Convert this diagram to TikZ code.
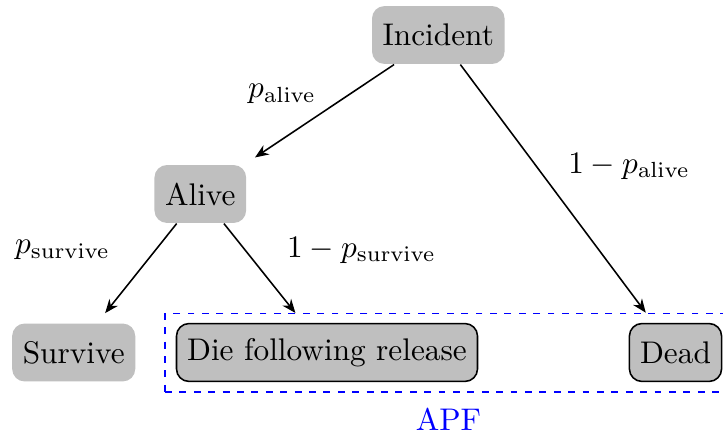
\documentclass[tikz,border=0pt]{standalone}
\usetikzlibrary{arrows.meta}
\tikzset{
  state/.style={rounded corners=4pt, fill=lightgray, minimum height=18.5pt,
                inner xsep=3.4pt, inner ysep=0pt},
  framed/.style={state, draw=black, line width=0.5pt},
  link/.style={-{Stealth[length=4.4pt,width=3.5pt]}, shorten >=4pt, line width=0.5pt},
  problabel/.style={inner sep=0pt},
  apfbox/.style={draw=blue, dash pattern=on 2.2pt off 2.4pt, line width=0.5pt,
                 minimum width=180.8pt, minimum height=25pt, inner sep=0pt},
}
\begin{document}
\begin{tikzpicture}[x=0.3195pt, y=-0.3195pt]
  \useasboundingbox (0,0) rectangle (723,437);

  % grouping frame around the two death outcomes
  \node[apfbox] (apf) at (448,352.6) {};
  \node[text=blue, inner sep=0pt] (apflabel) at (448.5,419.3) {APF};

  % event tree
  \node[state]  (incident) at (438.3,35)  {Incident};
  \node[state]  (alive)    at (200.3,194) {Alive};
  \node[state]  (survive)  at (73.7,352.5) {Survive};
  \node[framed] (die)      at (327,352.5) {Die following release};
  \node[framed] (dead)     at (675.5,352.5) {Dead};

  \draw[link] (incident) -- (alive);
  \draw[link] (incident) -- (dead);
  \draw[link] (alive) -- (survive);
  \draw[link] (alive) -- (die);

  % branch probabilities
  \node[problabel] (lalive)    at (282,94)    {$p_{\mathrm{alive}}$};
  \node[problabel] (ldead)     at (629,166)   {$1-p_{\mathrm{alive}}$};
  \node[problabel] (lsurvive)  at (62.5,250)  {$p_{\mathrm{survive}}$};
  \node[problabel] (lrelease)  at (361.5,250) {$1-p_{\mathrm{survive}}$};
\end{tikzpicture}
\end{document}
